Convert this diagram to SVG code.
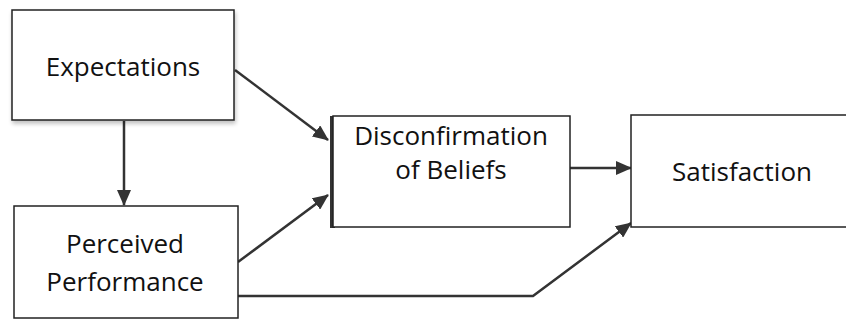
<svg xmlns="http://www.w3.org/2000/svg" width="846" height="320" viewBox="0 0 846 320">
  <defs>
    <marker id="arrow" markerWidth="16" markerHeight="14" refX="15" refY="7" orient="auto" markerUnits="userSpaceOnUse" viewBox="0 0 16 14">
      <path d="M0,0 L16,7 L0,14 z" fill="#333"/>
    </marker>
    <filter id="shadow" x="-5%" y="-5%" width="110%" height="120%">
      <feGaussianBlur in="SourceAlpha" stdDeviation="2"/>
      <feOffset dx="1" dy="3"/>
      <feComponentTransfer><feFuncA type="linear" slope="0.25"/></feComponentTransfer>
      <feMerge><feMergeNode/><feMergeNode in="SourceGraphic"/></feMerge>
    </filter>
  </defs>
  <style>
    .box { fill: #fff; stroke: #222; stroke-width: 1.5; }
    .label { font-family: "Open Sans", "Liberation Sans", sans-serif; font-size: 26px; fill: #111; text-anchor: middle; }
    .edge { fill: none; stroke: #333; stroke-width: 2.5; }
  </style>
  <rect width="846" height="320" fill="#fff"/>

  <g id="connectors">
    <line class="edge" x1="124" y1="121" x2="124" y2="205" marker-end="url(#arrow)"/>
    <line class="edge" x1="235" y1="70" x2="328" y2="140" marker-end="url(#arrow)"/>
    <line class="edge" x1="238" y1="262" x2="328" y2="195" marker-end="url(#arrow)"/>
    <line class="edge" x1="570" y1="168" x2="631" y2="168" marker-end="url(#arrow)"/>
    <polyline class="edge" points="238,296 533,296 631,223" marker-end="url(#arrow)"/>
  </g>

  <g id="expectations">
    <rect class="box" x="12" y="10" width="222" height="110" filter="url(#shadow)"/>
    <text class="label" x="123" y="76">Expectations</text>
  </g>

  <g id="perceived-performance">
    <rect class="box" x="14" y="206" width="224" height="112"/>
    <text class="label" x="125" y="253">Perceived</text>
    <text class="label" x="125" y="291">Performance</text>
  </g>

  <g id="disconfirmation">
    <rect x="330" y="116" width="5" height="112" fill="#333"/>
    <rect class="box" x="333" y="116" width="237" height="111"/>
    <text class="label" x="451" y="145">Disconfirmation</text>
    <text class="label" x="451" y="179">of Beliefs</text>
  </g>

  <g id="satisfaction">
    <rect class="box" x="631" y="115" width="220" height="112"/>
    <text class="label" x="742" y="181">Satisfaction</text>
  </g>
</svg>
